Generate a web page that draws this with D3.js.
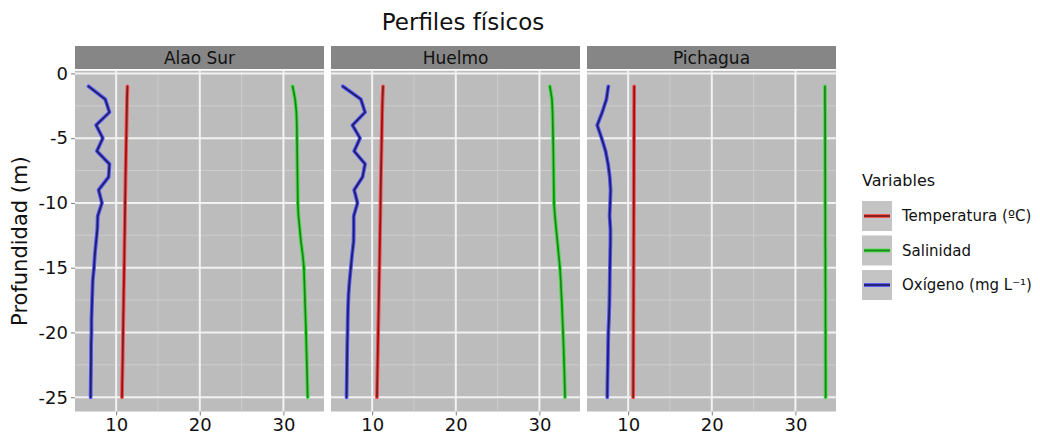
<!DOCTYPE html>
<html>
<head>
<meta charset="utf-8">
<script src="https://cdn.jsdelivr.net/npm/d3@7"></script>
<style>
  body { margin: 0; background: #fff; }
  text { font-family: "DejaVu Sans", Verdana, sans-serif; }
</style>
</head>
<body>
<svg id="chart"></svg>
<script>
// depths sampled every metre
const depths = d3.range(-1, -26, -1);
const sites = ['Alao Sur', 'Huelmo', 'Pichagua'];
const variables = ['Temperatura (ºC)', 'Salinidad', 'Oxígeno (mg L⁻¹)'];

const alaoTemp = [11.35, 11.3, 11.27, 11.24, 11.21, 11.18, 11.15, 11.12, 11.1, 11.07, 11.05, 11.03, 11.0, 10.98, 10.96, 10.93, 10.9, 10.88, 10.85, 10.83, 10.8, 10.78, 10.75, 10.72, 10.7];
const alaoSal = [31.1, 31.4, 31.55, 31.6, 31.62, 31.64, 31.66, 31.68, 31.7, 31.72, 31.8, 31.95, 32.1, 32.3, 32.45, 32.5, 32.55, 32.6, 32.65, 32.7, 32.74, 32.78, 32.82, 32.86, 32.9];
const alaoOxy = [6.7, 8.7, 9.2, 7.6, 8.4, 7.7, 9.2, 9.1, 7.9, 8.3, 7.8, 7.75, 7.6, 7.45, 7.35, 7.2, 7.15, 7.1, 7.05, 7.05, 7.0, 7.0, 6.98, 6.96, 6.95];

const huelTemp = [11.3, 11.24, 11.2, 11.17, 11.14, 11.11, 11.08, 11.05, 11.02, 11.0, 10.98, 10.95, 10.92, 10.9, 10.87, 10.84, 10.81, 10.78, 10.75, 10.72, 10.69, 10.66, 10.63, 10.6, 10.57];
const huelSal = [31.25, 31.5, 31.57, 31.6, 31.63, 31.66, 31.68, 31.7, 31.72, 31.74, 31.85, 32.0, 32.15, 32.3, 32.45, 32.55, 32.62, 32.7, 32.76, 32.82, 32.88, 32.93, 32.98, 33.02, 33.06];
const huelOxy = [6.5, 8.65, 9.15, 7.65, 8.55, 7.85, 9.15, 8.85, 7.85, 8.25, 7.8, 7.8, 7.78, 7.6, 7.45, 7.3, 7.18, 7.12, 7.08, 7.06, 7.02, 7.0, 6.98, 6.96, 6.94];

const pichTemp = [10.72, 10.72, 10.71, 10.71, 10.7, 10.7, 10.69, 10.69, 10.68, 10.68, 10.67, 10.67, 10.66, 10.66, 10.65, 10.65, 10.64, 10.64, 10.63, 10.63, 10.62, 10.62, 10.61, 10.61, 10.6];
const pichSal = [33.53, 33.53, 33.54, 33.54, 33.55, 33.55, 33.55, 33.56, 33.56, 33.56, 33.57, 33.57, 33.57, 33.58, 33.58, 33.58, 33.59, 33.59, 33.59, 33.6, 33.6, 33.6, 33.61, 33.61, 33.61];
const pichOxy = [7.63, 7.4, 6.9, 6.3, 6.83, 7.3, 7.6, 7.8, 7.9, 7.85, 7.78, 7.88, 7.88, 7.85, 7.82, 7.8, 7.78, 7.75, 7.7, 7.63, 7.6, 7.58, 7.55, 7.52, 7.5];

const xTicks = [10, 20, 30];
const yTicks = [0, -5, -10, -15, -20, -25];

const siteData = [
  [alaoTemp, alaoSal, alaoOxy],
  [huelTemp, huelSal, huelOxy],
  [pichTemp, pichSal, pichOxy]
];

const halo = ['#ff4a4a', '#3fe03f', '#5555ff'];
const core = ['#7a1c1c', '#1f7f1f', '#1e1e5a'];

const width = 1040, height = 438;
const panelLeft = 75, panelW = 249, gap = 7;
const panelTop = 70.8, panelBottom = 411.5;
const stripTop = 46, stripH = 23;

const svg = d3.select('#chart').attr('width', width).attr('height', height);

const x = d3.scaleLinear().domain([5.08, 34.85]).range([0, panelW]);
const y = d3.scaleLinear().domain([-26.1, 0.2]).range([panelBottom, panelTop]);

svg.append('text')
  .attr('x', 463).attr('y', 30)
  .attr('text-anchor', 'middle')
  .attr('font-size', 23)
  .attr('fill', '#111')
  .text('Perfiles físicos');

const line = d3.line()
  .x(d => x(d.v))
  .y(d => y(d.z));

sites.forEach((site, i) => {
  const g = svg.append('g')
    .attr('transform', `translate(${panelLeft + i * (panelW + gap)},0)`);

  // strip
  g.append('rect')
    .attr('x', 0).attr('y', stripTop)
    .attr('width', panelW).attr('height', stripH)
    .attr('fill', '#868686');
  g.append('text')
    .attr('x', panelW / 2).attr('y', stripTop + stripH / 2 + 6)
    .attr('text-anchor', 'middle')
    .attr('font-size', 17)
    .attr('fill', '#111')
    .text(site);

  // panel background
  g.append('rect')
    .attr('x', 0).attr('y', panelTop)
    .attr('width', panelW).attr('height', panelBottom - panelTop)
    .attr('fill', '#bcbcbc');

  // minor grid
  g.selectAll('.minor-x').data([15, 25]).join('line')
    .attr('x1', d => x(d)).attr('x2', d => x(d))
    .attr('y1', panelTop).attr('y2', panelBottom)
    .attr('stroke', '#cdcdcd').attr('stroke-width', 1);
  g.selectAll('.minor-y').data([-2.5, -7.5, -12.5, -17.5, -22.5]).join('line')
    .attr('x1', 0).attr('x2', panelW)
    .attr('y1', d => y(d)).attr('y2', d => y(d))
    .attr('stroke', '#cdcdcd').attr('stroke-width', 1);

  // major grid
  g.selectAll('.major-x').data(xTicks).join('line')
    .attr('x1', d => x(d)).attr('x2', d => x(d))
    .attr('y1', panelTop).attr('y2', panelBottom)
    .attr('stroke', '#f2f2f2').attr('stroke-width', 2);
  g.selectAll('.major-y').data(yTicks).join('line')
    .attr('x1', 0).attr('x2', panelW)
    .attr('y1', d => y(d)).attr('y2', d => y(d))
    .attr('stroke', '#f2f2f2').attr('stroke-width', 2);

  // profiles
  siteData[i].forEach((vals, k) => {
    const pts = depths.map((z, j) => ({z: z, v: vals[j]}));
    g.append('path').datum(pts)
      .attr('d', line)
      .attr('fill', 'none')
      .attr('stroke', halo[k])
      .attr('stroke-width', 3.8)
      .attr('stroke-linejoin', 'round')
      .attr('stroke-linecap', 'round');
    g.append('path').datum(pts)
      .attr('d', line)
      .attr('fill', 'none')
      .attr('stroke', core[k])
      .attr('stroke-width', 1.7)
      .attr('stroke-linejoin', 'round')
      .attr('stroke-linecap', 'round');
  });

  // x axis
  const xAxis = d3.axisBottom(x).tickValues(xTicks).tickSize(4).tickPadding(3).tickSizeOuter(0);
  const xg = g.append('g')
    .attr('transform', `translate(0,${panelBottom})`)
    .call(xAxis);
  xg.select('.domain').remove();
  xg.selectAll('line').attr('stroke', '#7f7f7f');
  xg.selectAll('text').attr('font-size', 18).attr('fill', '#111')
    .attr('font-family', '"DejaVu Sans", Verdana, sans-serif');

  if (i === 0) {
    const yAxis = d3.axisLeft(y).tickValues(yTicks).tickFormat(d => String(d))
      .tickSize(4).tickPadding(3).tickSizeOuter(0);
    const yg = g.append('g').call(yAxis);
    yg.select('.domain').remove();
    yg.selectAll('line').attr('stroke', '#7f7f7f');
    yg.selectAll('text').attr('font-size', 18).attr('fill', '#111')
      .attr('font-family', '"DejaVu Sans", Verdana, sans-serif');
  }
});

svg.append('text')
  .attr('transform', `translate(27,${(panelTop + panelBottom) / 2}) rotate(-90)`)
  .attr('text-anchor', 'middle')
  .attr('font-size', 21)
  .attr('fill', '#111')
  .text('Profundidad (m)');

// legend
const legend = svg.append('g').attr('transform', 'translate(862,0)');
legend.append('text')
  .attr('x', 0).attr('y', 186)
  .attr('font-size', 16)
  .attr('fill', '#111')
  .text('Variables');

const keyY = [201, 235.5, 270];
variables.forEach((v, k) => {
  legend.append('rect')
    .attr('x', 0).attr('y', keyY[k])
    .attr('width', 30).attr('height', 30)
    .attr('fill', '#c4c4c4');
  legend.append('line')
    .attr('x1', 2).attr('x2', 28)
    .attr('y1', keyY[k] + 15).attr('y2', keyY[k] + 15)
    .attr('stroke', halo[k]).attr('stroke-width', 3.8);
  legend.append('line')
    .attr('x1', 2).attr('x2', 28)
    .attr('y1', keyY[k] + 15).attr('y2', keyY[k] + 15)
    .attr('stroke', core[k]).attr('stroke-width', 1.7);
  legend.append('text')
    .attr('x', 40).attr('y', keyY[k] + 15)
    .attr('dy', '0.35em')
    .attr('font-size', 15)
    .attr('fill', '#111')
    .text(v);
});
</script>
</body>
</html>
